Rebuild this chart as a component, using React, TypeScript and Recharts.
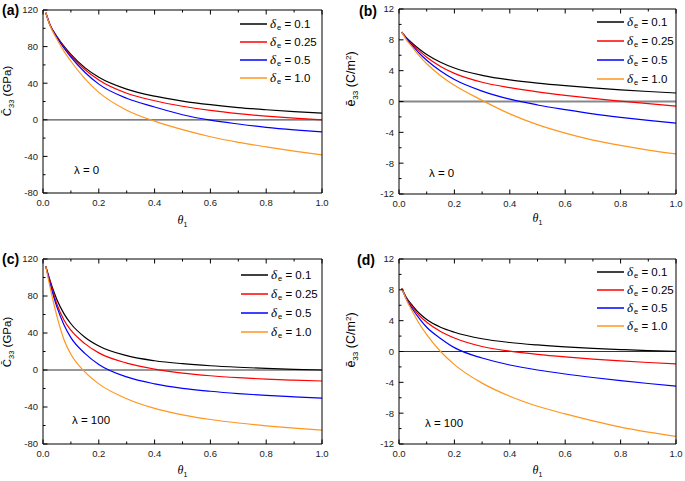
import React from 'react';
import { LineChart, Line, XAxis, YAxis, ReferenceLine, Legend } from 'recharts';

// theta_1 sample points shared by all four panels
const theta = [0.01, 0.025, 0.05, 0.075, 0.1, 0.15, 0.2, 0.3, 0.4, 0.5, 0.6, 0.7, 0.8, 0.9, 1.0];

const deltaLabels = ['0.1', '0.25', '0.5', '1.0'];
const seriesColors = ['#000000', '#ff0000', '#0000ff', '#ff961e'];

// (a) C33, lambda = 0
const cLam0_d01 = [117, 104, 91, 80.5, 71.5, 57, 46.5, 33.5, 25.8, 20.5, 16.5, 13.4, 11, 8.9, 7.2];
const cLam0_d025 = [117, 104, 90.5, 79.5, 70, 55, 43.5, 29, 20.8, 14.8, 10.2, 6.7, 4, 1.8, 0];
const cLam0_d05 = [117, 103.5, 90, 78.5, 68.5, 52, 39, 23.5, 14, 5.5, -0.4, -4.6, -8.2, -11, -13.3];
const cLam0_d10 = [117, 103, 88, 75, 64, 45, 30, 10.5, -1.5, -10.8, -18.5, -24.6, -29.6, -34.2, -38.3];

// (b) e33, lambda = 0
const eLam0_d01 = [9, 8.35, 7.5, 6.75, 6.1, 5.1, 4.35, 3.4, 2.8, 2.38, 2.05, 1.77, 1.52, 1.3, 1.1];
const eLam0_d025 = [9, 8.3, 7.35, 6.5, 5.75, 4.55, 3.65, 2.5, 1.8, 1.25, 0.8, 0.4, 0.05, -0.28, -0.6];
const eLam0_d05 = [9, 8.25, 7.2, 6.2, 5.35, 3.95, 2.85, 1.35, 0.3, -0.45, -1.05, -1.6, -2.05, -2.45, -2.8];
const eLam0_d10 = [9, 8.1, 6.95, 5.85, 4.9, 3.35, 2.1, 0.15, -1.6, -3.0, -4.1, -5.0, -5.7, -6.3, -6.8];

// (c) C33, lambda = 100
const cLam100_d01 = [112, 97, 76, 61, 50, 35.5, 26, 15.5, 10, 6.8, 4.6, 3.0, 1.7, 0.75, 0];
const cLam100_d025 = [112, 96, 71, 54, 43, 28.5, 18.5, 7.5, 1.0, -3.3, -6.2, -8.3, -9.9, -11, -11.9];
const cLam100_d05 = [112, 94, 68, 49, 35, 18, 6, -7.5, -15, -19.8, -23, -25.5, -27.5, -29, -30.3];
const cLam100_d10 = [112, 90, 58, 33, 17, -2, -15, -31, -41.5, -48.5, -53.5, -57.3, -60.3, -62.8, -64.9];

// (d) e33, lambda = 100
const eLam100_d01 = [8.2, 7.1, 5.9, 4.9, 4.15, 3.15, 2.5, 1.65, 1.17, 0.85, 0.6, 0.4, 0.25, 0.12, 0.02];
const eLam100_d025 = [8.2, 7.0, 5.7, 4.6, 3.8, 2.6, 1.75, 0.65, 0.05, -0.37, -0.7, -0.98, -1.22, -1.43, -1.6];
const eLam100_d05 = [8.2, 6.9, 5.45, 4.2, 3.15, 1.7, 0.5, -0.85, -1.75, -2.4, -2.92, -3.37, -3.78, -4.15, -4.5];
const eLam100_d10 = [8.2, 6.85, 5.1, 3.5, 2.2, 0.0, -1.7, -4.1, -5.8, -7.1, -8.1, -9.0, -9.8, -10.45, -11.0];

const xTicks = [0, 0.1, 0.2, 0.3, 0.4, 0.5, 0.6, 0.7, 0.8, 0.9, 1.0];
const cTicks = [-80, -60, -40, -20, 0, 20, 40, 60, 80, 100, 120];
const eTicks = [-12, -10, -8, -6, -4, -2, 0, 2, 4, 6, 8, 10, 12];

const FONT = '"Liberation Sans", Arial, sans-serif';

const buildRows = (series: number[][]) =>
  theta.map((t, i) => {
    const row: any = { theta: t };
    series.forEach((s, k) => (row['s' + k] = s[i]));
    return row;
  });

const isMajorX = (v: number) => Math.round(v * 10) % 2 === 0;

const makeTick = (side: string, isMajor: (v: number) => boolean, fmt?: (v: number) => string) => (props: any) => {
  const { x, y, payload } = props;
  const len = isMajor(payload.value) ? 4.5 : 2.5;
  let line;
  if (side === 'bottom') line = <line x1={x} x2={x} y1={y} y2={y - len} stroke="#000" />;
  else if (side === 'top') line = <line x1={x} x2={x} y1={y} y2={y + len} stroke="#000" />;
  else if (side === 'left') line = <line x1={x} x2={x + len} y1={y} y2={y} stroke="#000" />;
  else line = <line x1={x} x2={x - len} y1={y} y2={y} stroke="#000" />;
  let label = null;
  if (fmt && isMajor(payload.value)) {
    if (side === 'bottom')
      label = (
        <text x={x} y={y + 12.5} textAnchor="middle" fontSize={9.5} fill="#222" fontFamily={FONT}>
          {fmt(payload.value)}
        </text>
      );
    else
      label = (
        <text x={x - 5} y={y + 3.4} textAnchor="end" fontSize={9.5} fill="#222" fontFamily={FONT}>
          {fmt(payload.value)}
        </text>
      );
  }
  return (
    <g>
      {line}
      {label}
    </g>
  );
};

const YTitle = ({ cx, cy, main, sub, unit, sup, size }: any) => (
  <text
    transform={`translate(${cx},${cy}) rotate(-90)`}
    textAnchor="middle"
    fontSize={size}
    fill="#000"
    fontFamily={FONT}
  >
    <tspan>{main}</tspan>
    <tspan fontSize={size * 0.65} dy={2.5}>{sub}</tspan>
    <tspan dy={-2.5}>{' (' + unit}</tspan>
    {sup ? <tspan fontSize={size * 0.65} dy={-4.5}>{sup}</tspan> : null}
    <tspan dy={sup ? 4.5 : 0}>)</tspan>
  </text>
);

const XTitle = ({ cx, cy }: any) => (
  <text x={cx} y={cy} textAnchor="middle" fontSize={12} fill="#000" fontFamily={FONT}>
    <tspan fontStyle="italic" fontFamily='"Liberation Serif", serif'>θ</tspan>
    <tspan fontSize={7} dy={2.5}>1</tspan>
  </text>
);

const renderLegend = (rowH: number) => (props: any) => (
  <div style={{ fontFamily: FONT, fontSize: 11.5, color: '#000' }}>
    {props.payload.map((entry: any) => (
      <div key={entry.value} style={{ display: 'flex', alignItems: 'center', height: rowH, whiteSpace: 'nowrap' }}>
        <svg width={27} height={4} style={{ marginRight: 3 }}>
          <line x1={0} x2={27} y1={2} y2={2} stroke={entry.color} strokeWidth={1.5} />
        </svg>
        <span style={{ fontStyle: 'italic', fontFamily: '"Liberation Serif", serif', fontSize: 13 }}>δ</span>
        <span style={{ fontSize: 7.5, position: 'relative', top: 3.5, marginLeft: 1 }}>e</span>
        <span>{'\u00a0= ' + entry.value}</span>
      </div>
    ))}
  </div>
);

type PanelProps = {
  left: number;
  top: number;
  width: number;
  height: number;
  plot: { l: number; r: number; t: number; b: number };
  series: number[][];
  yDomain: [number, number];
  yTicks: number[];
  yMajorStep: number;
  tag: string;
  tagPos: { x: number; y: number };
  lambda: string;
  lambdaPos: { x: number; y: number };
  legendPos: { x: number; y: number; rowH: number };
  yTitle: { cx: number; cy: number; main: string; sub: string; unit: string; sup?: string; size: number };
  xTitleY: number;
  zeroColor: string;
  zeroWidth: number;
};

const Panel = (p: PanelProps) => {
  const rows = buildRows(p.series);
  const isMajorY = (v: number) => Math.abs(v % p.yMajorStep) < 1e-9;
  const fmtY = (v: number) => String(v);
  const fmtX = (v: number) => v.toFixed(1);
  return (
    <div style={{ position: 'absolute', left: p.left, top: p.top, width: p.width, height: p.height }}>
      <LineChart
        width={p.width}
        height={p.height}
        data={rows}
        margin={{ top: 0, right: 0, bottom: 0, left: 0 }}
      >
        <XAxis
          dataKey="theta"
          type="number"
          domain={[0, 1]}
          ticks={xTicks}
          interval={0}
          height={p.height - p.plot.b}
          tickSize={0}
          tickMargin={0}
          tickLine={false}
          axisLine={{ stroke: '#000' }}
          tick={makeTick('bottom', isMajorX, fmtX)}
          label={<XTitle cx={(p.plot.l + p.plot.r) / 2} cy={p.xTitleY} />}
        />
        <XAxis
          xAxisId="top"
          orientation="top"
          dataKey="theta"
          type="number"
          domain={[0, 1]}
          ticks={xTicks}
          interval={0}
          height={p.plot.t}
          tickSize={0}
          tickMargin={0}
          tickLine={false}
          axisLine={{ stroke: '#000' }}
          tick={makeTick('top', isMajorX)}
        />
        <YAxis
          type="number"
          domain={p.yDomain}
          ticks={p.yTicks}
          interval={0}
          width={p.plot.l}
          tickSize={0}
          tickMargin={0}
          tickLine={false}
          axisLine={{ stroke: '#000' }}
          tick={makeTick('left', isMajorY, fmtY)}
          label={<YTitle {...p.yTitle} />}
        />
        <YAxis
          yAxisId="right"
          orientation="right"
          type="number"
          domain={p.yDomain}
          ticks={p.yTicks}
          interval={0}
          width={p.width - p.plot.r}
          tickSize={0}
          tickMargin={0}
          tickLine={false}
          axisLine={{ stroke: '#000' }}
          tick={makeTick('right', isMajorY)}
        />
        <ReferenceLine y={0} stroke={p.zeroColor} strokeWidth={p.zeroWidth} />
        {p.series.map((_, k) => (
          <Line
            key={k}
            type="monotone"
            dataKey={'s' + k}
            name={deltaLabels[k]}
            stroke={seriesColors[k]}
            strokeWidth={1.2}
            dot={false}
            isAnimationActive={false}
          />
        ))}
        <Legend
          layout="vertical"
          align="center"
          verticalAlign="middle"
          content={renderLegend(p.legendPos.rowH)}
          wrapperStyle={{ left: p.legendPos.x, top: p.legendPos.y, width: 'auto', height: 'auto' }}
        />
      </LineChart>
      <div
        style={{
          position: 'absolute',
          left: p.tagPos.x,
          top: p.tagPos.y - 8,
          lineHeight: '16px',
          fontFamily: FONT,
          fontWeight: 'bold',
          fontSize: 14,
          color: '#000',
        }}
      >
        {p.tag}
      </div>
      <div
        style={{
          position: 'absolute',
          left: p.lambdaPos.x,
          top: p.lambdaPos.y - 7,
          lineHeight: '14px',
          fontFamily: FONT,
          fontSize: 11.5,
          color: '#000',
          whiteSpace: 'nowrap',
        }}
      >
        {p.lambda}
      </div>
    </div>
  );
};

export default function App() {
  return (
    <div style={{ position: 'absolute', left: 0, top: 0, width: 685, height: 481, background: '#fff', fontFamily: FONT }}>
      <Panel
        left={0}
        top={0}
        width={342}
        height={240}
        plot={{ l: 43, r: 322, t: 10, b: 193 }}
        series={[cLam0_d01, cLam0_d025, cLam0_d05, cLam0_d10]}
        yDomain={[-80, 120]}
        yTicks={cTicks}
        yMajorStep={40}
        tag="(a)"
        tagPos={{ x: 2, y: 10 }}
        lambda="λ = 0"
        lambdaPos={{ x: 74, y: 170 }}
        legendPos={{ x: 240, y: 15, rowH: 18 }}
        yTitle={{ cx: 11, cy: 91, main: 'C\u0304', sub: '33', unit: 'GPa', size: 11.5 }}
        xTitleY={224}
        zeroColor="#555"
        zeroWidth={1.2}
      />
      <Panel
        left={342}
        top={0}
        width={343}
        height={240}
        plot={{ l: 57, r: 334, t: 9, b: 194 }}
        series={[eLam0_d01, eLam0_d025, eLam0_d05, eLam0_d10]}
        yDomain={[-12, 12]}
        yTicks={eTicks}
        yMajorStep={4}
        tag="(b)"
        tagPos={{ x: 17, y: 11 }}
        lambda="λ = 0"
        lambdaPos={{ x: 87, y: 173 }}
        legendPos={{ x: 255, y: 12, rowH: 19 }}
        yTitle={{ cx: 13, cy: 79, main: 'ē', sub: '33', unit: 'C/m', sup: '2', size: 12.5 }}
        xTitleY={222}
        zeroColor="#888"
        zeroWidth={2}
      />
      <Panel
        left={0}
        top={240}
        width={342}
        height={241}
        plot={{ l: 43, r: 322, t: 19, b: 204 }}
        series={[cLam100_d01, cLam100_d025, cLam100_d05, cLam100_d10]}
        yDomain={[-80, 120]}
        yTicks={cTicks}
        yMajorStep={40}
        tag="(c)"
        tagPos={{ x: 2, y: 19 }}
        lambda="λ = 100"
        lambdaPos={{ x: 72, y: 180 }}
        legendPos={{ x: 241, y: 25, rowH: 19 }}
        yTitle={{ cx: 11, cy: 102, main: 'C\u0304', sub: '33', unit: 'GPa', size: 11.5 }}
        xTitleY={234}
        zeroColor="#333"
        zeroWidth={1.2}
      />
      <Panel
        left={342}
        top={240}
        width={343}
        height={241}
        plot={{ l: 57, r: 334, t: 19, b: 204 }}
        series={[eLam100_d01, eLam100_d025, eLam100_d05, eLam100_d10]}
        yDomain={[-12, 12]}
        yTicks={eTicks}
        yMajorStep={4}
        tag="(d)"
        tagPos={{ x: 15, y: 20 }}
        lambda="λ = 100"
        lambdaPos={{ x: 83, y: 183 }}
        legendPos={{ x: 255, y: 23, rowH: 18 }}
        yTitle={{ cx: 13, cy: 100, main: 'ē', sub: '33', unit: 'C/m', sup: '2', size: 12.5 }}
        xTitleY={234}
        zeroColor="#333"
        zeroWidth={1.2}
      />
    </div>
  );
}
